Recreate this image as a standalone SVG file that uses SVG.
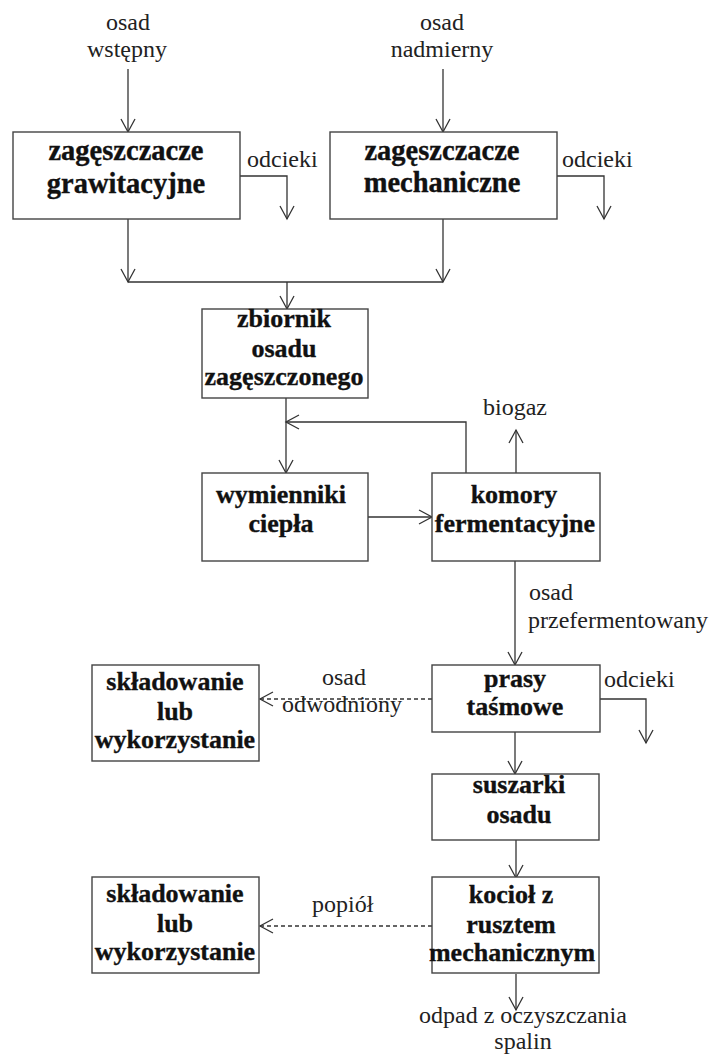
<svg xmlns="http://www.w3.org/2000/svg" width="713" height="1054" viewBox="0 0 713 1054">
<style>
.box{fill:#fff;stroke:#444;stroke-width:1.4}
.c{fill:none;stroke:#333;stroke-width:1.3}
.d{fill:none;stroke:#333;stroke-width:1.3;stroke-dasharray:4 3}
.b{font-family:"Liberation Serif",serif;font-weight:bold;font-size:26px;fill:#111;stroke:#111;stroke-width:0.35;text-anchor:middle}
.bt{font-size:28.5px}
.n{font-family:"Liberation Serif",serif;font-size:24px;fill:#222}
.m{text-anchor:middle}
</style>
<defs>
<marker id="ah" markerUnits="userSpaceOnUse" markerWidth="20" markerHeight="20" refX="14" refY="8" orient="auto" overflow="visible">
<path d="M1,1 L14,8 L1,15" fill="none" stroke="#333" stroke-width="1.3"/>
</marker>
</defs>
<rect width="713" height="1054" fill="#fff"/>
<g id="connectors">
<line class="c" x1="128" y1="69" x2="128" y2="132" marker-end="url(#ah)"/>
<line class="c" x1="443" y1="69" x2="443" y2="132" marker-end="url(#ah)"/>
<polyline class="c" points="240,176 287,176 287,219" marker-end="url(#ah)"/>
<polyline class="c" points="557,176 604,176 604,219" marker-end="url(#ah)"/>
<line class="c" x1="128" y1="219" x2="128" y2="282" marker-end="url(#ah)"/>
<line class="c" x1="443" y1="219" x2="443" y2="282" marker-end="url(#ah)"/>
<line class="c" x1="128" y1="282" x2="443" y2="282"/>
<line class="c" x1="287" y1="282" x2="287" y2="309" marker-end="url(#ah)"/>
<line class="c" x1="286" y1="398" x2="286" y2="473" marker-end="url(#ah)"/>
<polyline class="c" points="466,473 466,422 286,422" marker-end="url(#ah)"/>
<line class="c" x1="516" y1="473" x2="516" y2="430" marker-end="url(#ah)"/>
<line class="c" x1="368" y1="517" x2="432" y2="517" marker-end="url(#ah)"/>
<line class="c" x1="515" y1="561" x2="515" y2="665" marker-end="url(#ah)"/>
<polyline class="c" points="600,699 646,699 646,743" marker-end="url(#ah)"/>
<line class="d" x1="432" y1="699" x2="260" y2="699" marker-end="url(#ah)"/>
<line class="c" x1="515" y1="732" x2="515" y2="774" marker-end="url(#ah)"/>
<line class="c" x1="516" y1="840" x2="516" y2="878" marker-end="url(#ah)"/>
<line class="d" x1="432" y1="926" x2="260" y2="926" marker-end="url(#ah)"/>
<line class="c" x1="516" y1="974" x2="516" y2="1010" marker-end="url(#ah)"/>
</g>
<g id="labels">
<text class="n m" x="128" y="30">osad</text>
<text class="n m" x="127" y="57">wstępny</text>
<text class="n m" x="442" y="30">osad</text>
<text class="n m" x="442" y="57">nadmierny</text>
<text class="n" x="247" y="167">odcieki</text>
<text class="n" x="562" y="167">odcieki</text>
<text class="n" x="483" y="415">biogaz</text>
<text class="n" x="529" y="600">osad</text>
<text class="n" x="528" y="628">przefermentowany</text>
<text class="n" x="604" y="687">odcieki</text>
<text class="n" x="322" y="685">osad</text>
<text class="n" x="282" y="712">odwodniony</text>
<text class="n" x="312" y="912">popiół</text>
<text class="n m" x="523" y="1023">odpad z oczyszczania</text>
<text class="n m" x="523" y="1049">spalin</text>
</g>
<g id="n1"><rect class="box" x="13" y="132" width="227" height="87"/>
<text class="b bt" x="126" y="160">zagęszczacze</text><text class="b bt" x="126" y="193">grawitacyjne</text></g>
<g id="n2"><rect class="box" x="330" y="132" width="227" height="87"/>
<text class="b bt" x="442" y="160">zagęszczacze</text><text class="b bt" x="442" y="192">mechaniczne</text></g>
<g id="n3"><rect class="box" x="202" y="309" width="166" height="89"/>
<text class="b" x="284" y="327">zbiornik</text><text class="b" x="284" y="357">osadu</text><text class="b" x="284" y="385">zagęszczonego</text></g>
<g id="n4"><rect class="box" x="202" y="473" width="166" height="88"/>
<text class="b" x="281" y="503">wymienniki</text><text class="b" x="281" y="532">ciepła</text></g>
<g id="n5"><rect class="box" x="432" y="473" width="168" height="88"/>
<text class="b" x="514" y="503">komory</text><text class="b" x="515" y="532">fermentacyjne</text></g>
<g id="n6"><rect class="box" x="432" y="665" width="168" height="67"/>
<text class="b" x="515" y="687">prasy</text><text class="b" x="515" y="715">taśmowe</text></g>
<g id="n7"><rect class="box" x="92" y="665" width="167" height="96"/>
<text class="b" x="175" y="690">składowanie</text><text class="b" x="175" y="720">lub</text><text class="b" x="175" y="748">wykorzystanie</text></g>
<g id="n8"><rect class="box" x="432" y="774" width="167" height="66"/>
<text class="b" x="519" y="793">suszarki</text><text class="b" x="519" y="823">osadu</text></g>
<g id="n9"><rect class="box" x="432" y="877" width="167" height="96"/>
<text class="b" x="511" y="903">kocioł z</text><text class="b" x="511" y="933">rusztem</text><text class="b" x="512" y="961">mechanicznym</text></g>
<g id="n10"><rect class="box" x="92" y="877" width="167" height="96"/>
<text class="b" x="175" y="902">składowanie</text><text class="b" x="175" y="932">lub</text><text class="b" x="175" y="960">wykorzystanie</text></g>
</svg>
